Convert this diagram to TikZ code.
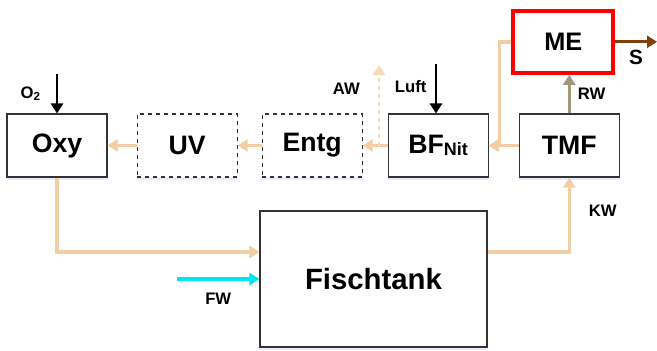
\documentclass[tikz,border=0pt]{standalone}
\usepackage{fontspec}
\setsansfont{Liberation Sans}
\usetikzlibrary{arrows.meta,positioning,shadows}

\definecolor{peach}{RGB}{242,206,164}
\definecolor{peachlight}{RGB}{247,218,186}
\definecolor{rwgray}{RGB}{160,152,124}
\definecolor{sbrown}{RGB}{128,62,8}
\definecolor{fwcyan}{RGB}{0,228,238}

\begin{document}
\begin{tikzpicture}[
  x=0.75pt, y=-0.75pt,
  font=\sffamily\bfseries,
  box/.style={draw=black!80, line width=0.8pt, fill=white, inner sep=0pt,
    minimum width=75pt, minimum height=47.25pt, font=\sffamily\bfseries\fontsize{20}{24}\selectfont,
    drop shadow={shadow xshift=0pt, shadow yshift=-2pt, fill=blue!25, opacity=.35}},
  dbox/.style={box, dashed},
  flow/.style={-{Triangle[length=7.5pt,width=9pt]}, line width=2.6pt, draw=peach},
  feed/.style={-{Triangle[length=7.5pt,width=9pt]}, line width=1.8pt, draw=black},
  lbl/.style={font=\sffamily\bfseries\fontsize{12.5}{14}\selectfont}
]
\useasboundingbox (0,0) rectangle (657,350);

% treatment line
\node[box] (oxy) at (57,145.5) {Oxy};
\node[dbox, right=21.75pt of oxy] (uv) {UV};
\node[dbox, right=18pt of uv] (entg) {Entg};
\node[box, right=18.75pt of entg] (bf) {BF\raisebox{-2pt}{\fontsize{13.5}{14}\selectfont Nit}};
\node[box, right=22.5pt of bf] (tmf) {TMF};
\node[box, draw=red, line width=3pt, minimum width=75pt, minimum height=46.5pt,
  above=29pt of tmf, xshift=-4.5pt, font=\sffamily\bfseries\fontsize{19}{22}\selectfont] (me) {ME};
\node[box, minimum width=170.25pt, minimum height=102pt,
  font=\sffamily\bfseries\fontsize{22}{26}\selectfont] (tank) at (373.5,279) {Fischtank};

\coordinate (o2) at (57,74);
\coordinate (luft) at (436,64);
\coordinate (aw) at (379,65);
\coordinate (s) at (657,42);
\coordinate (fw) at (177,279);

\draw[flow] (uv) -- (oxy);
\draw[flow] (entg) -- (uv);
\draw[flow] (bf) -- (entg);
\draw[flow] (tmf) -- (bf);
\draw[flow] (me.west) -- ++(-12,0) |- (bf.east);
\draw[flow, draw=peachlight, dashed, line width=2.2pt] (aw |- bf.west) -- node[lbl, left=10pt, pos=0.7] {AW} (aw);
\draw[flow] (oxy) |- ([yshift=20.25pt]tank.west);
\draw[flow] ([yshift=20.25pt]tank.east) -| node[lbl, right=10pt, pos=0.78] {KW} (tmf);

\draw[feed] (o2) -- node[lbl, left=8pt] {O\textsubscript{2}} (oxy);
\draw[feed] (luft) -- node[lbl, left=3pt, pos=0.45] {Luft} (bf.north -| luft);
\draw[-{Triangle[length=7.5pt,width=9pt]}, line width=2.4pt, draw=rwgray]
  (tmf.north) -- node[lbl, right=2pt] {RW} (tmf.north |- me.south);
\draw[-{Triangle[length=7.5pt,width=9pt]}, line width=2pt, draw=sbrown]
  (me.east) -- node[below=2pt, font=\sffamily\bfseries\fontsize{15.5}{18}\selectfont] {S} (me.east -| s);
\draw[-{Triangle[length=7.5pt,width=9pt]}, line width=2.6pt, draw=fwcyan]
  (fw) -- node[lbl, below=6pt] {FW} (tank.west);

\end{tikzpicture}
\end{document}
